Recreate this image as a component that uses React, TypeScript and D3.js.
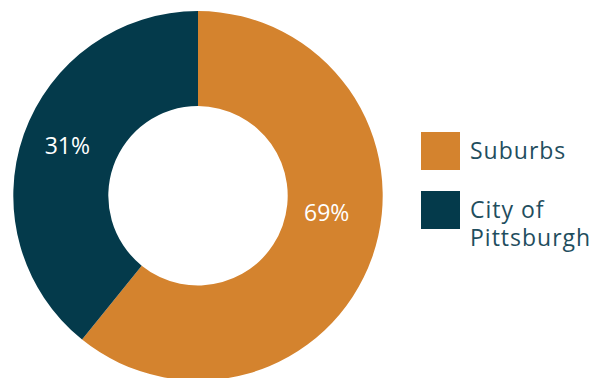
import React from "react";
import * as d3 from "d3";

const categories = ["Suburbs", "City of Pittsburgh"];
// slice sizes as drawn in the picture (the printed labels read 69% / 31%)
const values = [60.8, 39.2];
const labels = ["69%", "31%"];
const colors = ["#D4832E", "#043A4B"];
const legendLines = [["Suburbs"], ["City of", "Pittsburgh"]];

const W = 605;
const H = 378;
const cx = 198;
const cy = 195.8;
const outerR = 184.7;
const innerR = 89.7;
// label centers in polar form: angle (deg, clockwise from top), radius
const labelPolar = [
  { a: 97.2, r: 129.7 },
  { a: 291.4, r: 140.4 },
];
const labelSize = 23;

export default function App() {
  const pie = d3.pie<number>().sort(null).value((d) => d);
  const arcs = pie(values);
  const arc = d3.arc<d3.PieArcDatum<number>>().innerRadius(innerR).outerRadius(outerR);

  return (
    <svg
      width={W}
      height={H}
      style={{ position: "absolute", left: 0, top: 0, background: "#fff" }}
    >
      <g transform={`translate(${cx},${cy})`}>
        {arcs.map((d, i) => (
          <path key={i} d={arc(d) || ""} fill={colors[i]} />
        ))}
        {labelPolar.map((p, i) => {
          const a = (p.a * Math.PI) / 180;
          return (
            <text
              key={i}
              x={p.r * Math.sin(a)}
              y={-p.r * Math.cos(a) + labelSize * 0.41}
              textAnchor="middle"
              fill="#fff"
              fontFamily="'Open Sans', sans-serif"
              fontSize={labelSize}
            >
              {labels[i]}
            </text>
          );
        })}
      </g>
      <g>
        {categories.map((c, i) => {
          const y0 = 132 + i * 59;
          return (
            <g key={c}>
              <rect x={421} y={y0} width={39} height={38} fill={colors[i]} />
              {legendLines[i].map((line, j) => (
                <text
                  key={j}
                  x={470}
                  y={y0 + 26.5 + j * 28}
                  fill="#1F4E5E"
                  fontFamily="'Open Sans', sans-serif"
                  fontSize={23}
                  letterSpacing={1}
                >
                  {line}
                </text>
              ))}
            </g>
          );
        })}
      </g>
    </svg>
  );
}
